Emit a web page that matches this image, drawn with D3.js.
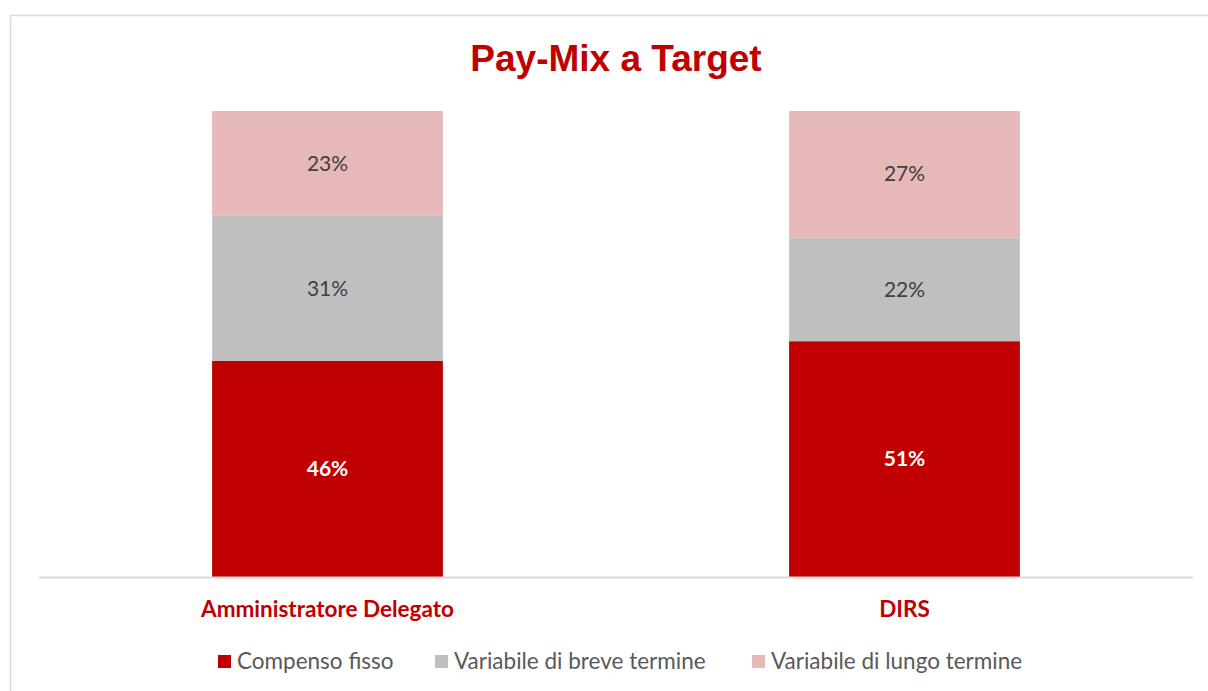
<!DOCTYPE html>
<html>
<head>
<meta charset="utf-8">
<script src="https://cdn.jsdelivr.net/npm/d3@7"></script>
<style>
  html, body { margin: 0; padding: 0; background: #fff; }
  svg { display: block; }
</style>
</head>
<body>
<svg id="chart" width="1208" height="691"></svg>
<script>
// --- données ---
const categories = ['Amministratore Delegato', 'DIRS'];
const seriesNames = ['Compenso fisso', 'Variabile di breve termine', 'Variabile di lungo termine'];
const compensoFisso = [46.4, 50.6];
const breveTermine = [31.1, 22.3];
const lungoTermine = [22.5, 27.1];
const seriesColors = ['#c00000', '#bfbfbf', '#e6b8b7'];

const width = 1208, height = 691;
const svg = d3.select('#chart');
const fmt = d3.format('.0f');

// cadre du graphique
svg.append('path')
    .attr('d', `M10.5,${height} V15.5 H${width}`)
    .attr('fill', 'none')
    .attr('stroke', '#d9d9d9')
    .attr('stroke-width', 1.5);

// titre
svg.append('text')
    .attr('x', 616).attr('y', 71)
    .attr('text-anchor', 'middle')
    .attr('font-family', 'Liberation Sans, Arial, sans-serif')
    .attr('font-weight', 'bold')
    .attr('font-size', 37)
    .attr('fill', '#c00000')
    .text('Pay-Mix a Target');

const plot = { left: 39, right: 1193, top: 111, bottom: 577 };

const x = d3.scaleBand()
    .domain(categories)
    .range([plot.left, plot.right])
    .paddingInner(0.6)
    .paddingOuter(0.3);

const y = d3.scaleLinear()
    .domain([0, 100])
    .range([plot.bottom, plot.top]);

const rows = categories.map((c, i) => ({
    cat: c,
    'Compenso fisso': compensoFisso[i],
    'Variabile di breve termine': breveTermine[i],
    'Variabile di lungo termine': lungoTermine[i]
}));

const stacked = d3.stack().keys(seriesNames)(rows);

const layers = svg.append('g')
    .selectAll('g')
    .data(stacked)
    .join('g')
    .attr('fill', (d, i) => seriesColors[i]);

layers.selectAll('rect')
    .data(d => d)
    .join('rect')
    .attr('x', d => x(d.data.cat))
    .attr('width', x.bandwidth())
    .attr('y', d => y(d[1]))
    .attr('height', d => y(d[0]) - y(d[1]));

// étiquettes des valeurs
stacked.forEach((layer, i) => {
    svg.append('g')
        .selectAll('text')
        .data(layer)
        .join('text')
        .attr('x', d => x(d.data.cat) + x.bandwidth() / 2)
        .attr('y', d => (y(d[0]) + y(d[1])) / 2)
        .attr('dy', '0.35em')
        .attr('text-anchor', 'middle')
        .attr('font-family', 'Lato, Calibri, sans-serif')
        .attr('font-size', 21)
        .attr('font-weight', i === 0 ? 'bold' : 'normal')
        .attr('fill', i === 0 ? '#ffffff' : '#404040')
        .text(d => fmt(d[1] - d[0]) + '%');
});

// axe horizontal
svg.append('line')
    .attr('x1', plot.left).attr('x2', plot.right)
    .attr('y1', plot.bottom + 0.5).attr('y2', plot.bottom + 0.5)
    .attr('stroke', '#d9d9d9')
    .attr('stroke-width', 2);

svg.append('g')
    .selectAll('text')
    .data(categories)
    .join('text')
    .attr('x', d => x(d) + x.bandwidth() / 2)
    .attr('y', 617)
    .attr('text-anchor', 'middle')
    .attr('font-family', 'Lato, Calibri, sans-serif')
    .attr('font-weight', 'bold')
    .attr('font-size', 22.5)
    .attr('fill', '#c00000')
    .text(d => d);

// légende
const legendX = [218, 435, 752];
const legend = svg.append('g')
    .selectAll('g')
    .data(seriesNames)
    .join('g')
    .attr('transform', (d, i) => `translate(${legendX[i]},655)`);

legend.append('rect')
    .attr('width', 13).attr('height', 13)
    .attr('fill', (d, i) => seriesColors[i]);

legend.append('text')
    .attr('x', 19).attr('y', 14)
    .attr('font-family', 'Lato, Calibri, sans-serif')
    .attr('font-size', 22.5)
    .attr('fill', '#595959')
    .text(d => d);
</script>
</body>
</html>
